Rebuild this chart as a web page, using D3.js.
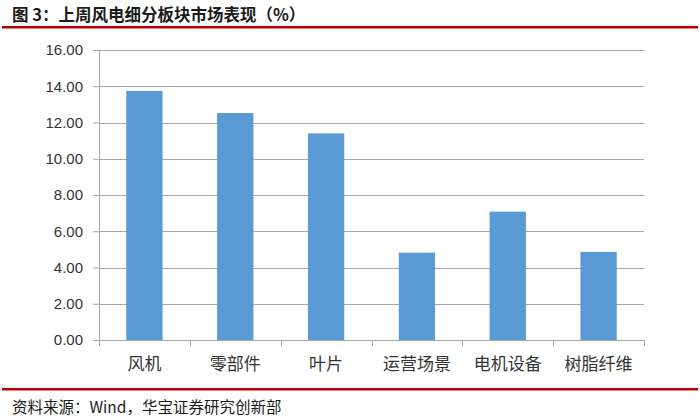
<!DOCTYPE html>
<html>
<head>
<meta charset="utf-8">
<script src="https://cdn.jsdelivr.net/npm/d3@7/dist/d3.min.js"></script>
<style>
  html, body { margin: 0; padding: 0; background: #fff; }
  svg { display: block; }
</style>
</head>
<body>
<svg id="chart" width="700" height="416"></svg>
<script>
const categories = ["风机", "零部件", "叶片", "运营场景", "电机设备", "树脂纤维"];
const values = [13.74, 12.52, 11.40, 4.82, 7.08, 4.86];
const yTicks = [0, 2, 4, 6, 8, 10, 12, 14, 16];
const titleText = "图 3：上周风电细分板块市场表现（%）";
const sourceText = "资料来源：Wind，华宝证券研究创新部";

const svg = d3.select("#chart");
const W = 700, H = 416;
const m = { left: 99, right: 56, top: 50, bottom: 76 };
const plotW = W - m.left - m.right; // 545
const plotH = H - m.top - m.bottom; // 290

const cjk = "'Noto Sans CJK SC', 'Noto Sans', sans-serif";

// Title
svg.append("text")
  .attr("x", 12).attr("y", 21)
  .attr("font-family", cjk)
  .attr("font-weight", "bold")
  .attr("font-size", 16.5)
  .attr("fill", "#1a1a1a")
  .text(titleText);

svg.append("rect").attr("x", 2).attr("y", 26).attr("width", 696).attr("height", 2.5).attr("fill", "#c00000");

const g = svg.append("g").attr("transform", `translate(${m.left},${m.top})`);

const x = d3.scaleBand().domain(categories).range([0, plotW]).paddingInner(0.6).paddingOuter(0.3);
const y = d3.scaleLinear().domain([0, 16]).range([plotH, 0]);

// gridlines
g.append("g")
  .selectAll("line")
  .data(yTicks.filter(d => d > 0))
  .join("line")
  .attr("x1", 0).attr("x2", plotW)
  .attr("y1", d => Math.round(y(d)) + 0.5).attr("y2", d => Math.round(y(d)) + 0.5)
  .attr("stroke", "#a6a6a6").attr("stroke-width", 1);

// bars
g.append("g")
  .selectAll("rect")
  .data(values)
  .join("rect")
  .attr("x", (d, i) => x(categories[i]))
  .attr("width", x.bandwidth())
  .attr("y", d => y(d))
  .attr("height", d => y(0) - y(d))
  .attr("fill", "#5b9bd5");

// y axis
const yAxis = d3.axisLeft(y).tickValues(yTicks).tickFormat(d3.format(".2f")).tickSize(6).tickPadding(10);
const ya = g.append("g").call(yAxis);
ya.select(".domain").attr("stroke", "#a6a6a6");
ya.selectAll(".tick line").attr("stroke", "#a6a6a6");
ya.selectAll(".tick text")
  .attr("font-family", "'Liberation Sans', Arial, sans-serif")
  .attr("font-size", 15)
  .attr("fill", "#333");

// x axis
const xOuter = d3.scalePoint().domain(d3.range(categories.length + 1)).range([0, plotW]);
const xa = g.append("g").attr("transform", `translate(0,${plotH})`);
xa.append("line").attr("x1", 0).attr("x2", plotW).attr("y1", 0.5).attr("y2", 0.5).attr("stroke", "#a6a6a6");
xa.selectAll("line.tk")
  .data(xOuter.domain())
  .join("line").attr("class", "tk")
  .attr("x1", d => Math.round(xOuter(d)) + 0.5).attr("x2", d => Math.round(xOuter(d)) + 0.5)
  .attr("y1", 0).attr("y2", 6)
  .attr("stroke", "#a6a6a6");
xa.selectAll("text")
  .data(categories)
  .join("text")
  .attr("x", d => x(d) + x.bandwidth() / 2)
  .attr("y", 30)
  .attr("text-anchor", "middle")
  .attr("font-family", cjk)
  .attr("font-size", 17)
  .attr("fill", "#333")
  .text(d => d);

// bottom red line and source
svg.append("rect").attr("x", 2).attr("y", 388).attr("width", 696).attr("height", 2.5).attr("fill", "#c00000");
svg.append("text")
  .attr("x", 12).attr("y", 413)
  .attr("font-family", cjk)
  .attr("font-size", 15.5)
  .attr("fill", "#1a1a1a")
  .text(sourceText);
</script>
</body>
</html>
